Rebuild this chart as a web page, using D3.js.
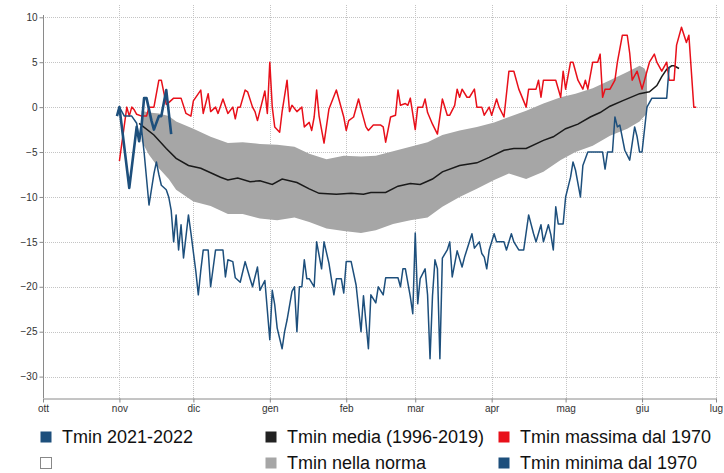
<!DOCTYPE html>
<html><head><meta charset="utf-8">
<script src="https://cdn.jsdelivr.net/npm/d3@7"></script>
<style>body{margin:0;background:#fff}svg{display:block}</style>
</head><body><svg id="c" width="724" height="473"></svg>
<script>
// days counted from 1 Oct 2021
const monthLabels = ["ott","nov","dic","gen","feb","mar","apr","mag","giu","lug"];
const yTicks = [10,5,0,-5,-10,-15,-20,-25,-30];

const curDay = [30,31,35,38,39,40,41,42,44,45,47,48,50,52];
const curVal = [-1,0,-9,-2.2,-3.8,-2,1,1,-1.5,-2.5,-1,-1,1.9,-3];

const mediaDay = [39,45,50,54,59,64,68,72,75,79,84,88,93,97,103,108,112,119,125,130,133,139,144,149,153,158,162,169,176,181,187,191,196,203,207,212,217,222,226,230,235,242,246,249,251,253,255,256,258];
const mediaVal = [-1.8,-3.1,-4.6,-5.7,-6.5,-6.8,-7.3,-7.8,-8.1,-7.9,-8.3,-8.2,-8.6,-8.0,-8.4,-9.1,-9.6,-9.7,-9.6,-9.7,-9.5,-9.5,-8.8,-8.5,-8.6,-8.0,-7.2,-6.5,-6.2,-5.6,-4.8,-4.6,-4.6,-3.7,-3.3,-2.4,-1.9,-1.1,-0.6,0.1,0.7,1.5,1.7,2.4,3.4,4.2,4.6,4.6,4.3];

const normaDay = [40,43,47,51,54,61,68,75,81,88,95,102,108,115,122,129,135,142,149,156,162,169,176,183,189,196,203,210,216,223,230,237,242,244,245];
const normaHigh = [-0.4,-0.6,-0.7,-1.0,-1.6,-2.4,-3.3,-4.0,-3.9,-4.1,-4.2,-4.4,-5.2,-5.8,-5.4,-5.5,-5.4,-4.9,-4.4,-3.9,-3.1,-2.6,-2.2,-1.7,-1.1,-0.4,0.4,1.1,1.5,2.1,3.0,3.9,4.6,4.3,3.6];
const normaLow = [-3.8,-5.3,-6.8,-8.0,-9.2,-10.5,-11.0,-11.9,-11.9,-12.4,-12.6,-12.3,-12.8,-13.5,-13.8,-14.0,-13.7,-13.0,-12.6,-12.3,-11.1,-10.0,-9.1,-8.1,-7.4,-8.0,-7.2,-5.9,-5.0,-4.3,-3.2,-2.4,-1.6,-1.0,-0.7];

const maxDay = [31,34,35,36,37,38,40,42,43,45,47,48,50,51,53,56,58,60,61,64,65,67,68,70,71,73,75,77,78,79,80,82,83,85,86,87,89,90,91,92,93,94,96,97,99,100,101,103,105,106,108,109,110,111,112,114,116,119,120,122,123,124,126,128,129,131,132,134,137,138,139,141,143,144,145,147,148,149,151,152,154,155,156,158,160,162,164,165,167,168,169,170,172,173,175,176,178,179,181,182,183,184,185,187,189,191,193,196,197,200,201,202,203,206,208,210,211,212,214,215,217,219,220,221,223,225,226,227,228,230,232,233,235,237,238,239,241,243,244,246,248,249,251,253,254,256,257,259,261,262,264,265];
const maxVal = [-6,0,-1,0,-0.3,-0.8,-1,-1,0,0,3,3,0.3,0.5,1,1,-0.7,-1,0.7,1.9,-0.7,1.5,-0.5,0,-0.7,0.9,-0.7,0,-1.3,0,0,1.9,1.7,0,-0.5,-1.5,0.7,1.8,-0.7,5,0,-2.2,-2.8,-0.5,3,-0.5,0.2,-0.5,0,-2.2,-1.7,-2.6,-1.1,1.9,-1,-4,-0.2,1.9,0.9,-1.1,-2.6,-1.5,-1.1,0.9,-0.2,-2.2,-2.6,-2,-2,-2.2,-3.9,-1.1,-0.9,1.9,0.2,0.4,0.2,1,-2.5,0,0,0.9,-0.6,-1.9,-3,0.9,-0.9,-0.9,0.2,2,1.1,2,1.1,1.1,2,0,0,-0.9,0,-0.9,0,0.9,0,-1.1,4,4,2,0,2,2,3,1.1,3,3,3,1.1,4,2,5,5,3,2,3,2,5,5,5.9,1.1,2,2,3,5,8,8,6,3,4,2,3,5,5.9,5,4,5,3,3,6.9,8.9,7.2,8,0,0];

const minDay = [31,33,36,38,39,40,41,43,45,46,47,48,50,51,52,53,54,55,56,57,59,60,62,63,64,65,67,68,70,73,74,75,77,78,80,82,84,85,87,88,90,92,93,94,95,97,98,99,101,102,103,104,105,106,107,108,110,111,113,114,116,118,119,121,122,123,125,127,129,130,132,133,135,136,138,139,144,145,146,147,149,150,151,152,153,155,156,157,158,159,160,161,162,164,165,166,168,170,171,174,175,177,178,179,180,181,183,184,187,188,190,191,193,195,197,199,200,202,203,205,206,207,208,209,211,212,213,214,215,216,218,219,221,227,228,229,231,232,233,234,236,238,240,241,242,243,245,247,253,254];
const minVal = [0,-1,-1,-1.8,-3.7,-2.5,-5,-10.9,-7.4,-6.1,-7.5,-8.7,-9.2,-10,-11.5,-15,-12,-15.9,-13.1,-16.8,-12,-14,-18.3,-20.9,-18.2,-15.9,-15.9,-20,-15.9,-15.9,-18.9,-17,-17.2,-19,-19.5,-17.2,-19.1,-20,-17.8,-20.4,-19.3,-25.9,-20.4,-22,-24.6,-26.9,-25,-23.7,-20.5,-20,-25,-20,-20,-17,-19.1,-19.1,-20,-15,-18,-15,-17.4,-20.9,-19.1,-19.1,-20.7,-17.2,-17.2,-19.8,-25,-21,-26.9,-20.9,-21.8,-20,-20.9,-19,-19,-20,-18,-18,-21.1,-23,-14,-21.9,-19.1,-18,-20.9,-28,-21,-17,-18,-28,-16.8,-15.9,-15,-18.9,-16,-17.8,-16.7,-14.1,-15.7,-15,-16.3,-16.7,-18,-15.9,-14.1,-15,-15,-15.9,-14.1,-15,-15.9,-15.9,-12,-14.1,-15,-13.1,-15,-13.1,-14.2,-15.9,-11.1,-13,-13,-10,-8.9,-7.8,-6.1,-7,-10,-6.5,-5,-5,-6.9,-5,-5,-1.1,-2.2,-2,-4.8,-5.9,-2.2,-3.3,-5,-5,0,1,1,4.5];

const legendItems = [
  {label:"Tmin 2021-2022", color:"#1d4f7c"},
  {label:"", color:"#ffffff"},
  {label:"Tmin media (1996-2019)", color:"#222222"},
  {label:"Tmin nella norma", color:"#a6a6a6"},
  {label:"Tmin massima dal 1970", color:"#e8101a"},
  {label:"Tmin minima dal 1970", color:"#1d4f7c"}
];

const start = new Date(2021, 9, 1);
const toDate = d => d3.timeDay.offset(start, d);
const svg = d3.select("#c");
const x = d3.scaleTime().domain([start, new Date(2022, 6, 1)]).range([43, 716]);
const y = d3.scaleLinear().domain([-30, 10]).range([376.6, 17.3]);
const plotTop = 5, plotBottom = 398;
const monthDates = monthLabels.map((m, i) => new Date(2021, 9 + i, 1));

// grid
const grid = svg.append("g").attr("stroke", "#c4c4c4").attr("stroke-dasharray", "1,1").attr("stroke-width", 1);
grid.selectAll("line.h").data(yTicks).join("line")
  .attr("x1", 43).attr("x2", 720).attr("y1", d => Math.round(y(d)) + 0.5).attr("y2", d => Math.round(y(d)) + 0.5);
grid.selectAll("line.v").data(monthDates.slice(1)).join("line")
  .attr("y1", plotTop).attr("y2", plotBottom).attr("x1", d => Math.round(x(d)) + 0.5).attr("x2", d => Math.round(x(d)) + 0.5);

// band
const band = normaDay.map((d, i) => ({d, hi: normaHigh[i], lo: normaLow[i]}));
svg.append("path").datum(band)
  .attr("fill", "#a6a6a6")
  .attr("d", d3.area().x(p => x(toDate(p.d))).y0(p => y(p.lo)).y1(p => y(p.hi)));

const line = d3.line().x(p => x(toDate(p[0]))).y(p => y(p[1]));
const zip = (a, b) => a.map((v, i) => [v, b[i]]);

svg.append("path").datum(zip(mediaDay, mediaVal)).attr("fill", "none").attr("stroke", "#1a1a1a").attr("stroke-width", 1.5).attr("d", line);
svg.append("path").datum(zip(maxDay, maxVal)).attr("fill", "none").attr("stroke", "#e8101a").attr("stroke-width", 1.5).attr("stroke-linejoin", "round").attr("d", line);
svg.append("path").datum(zip(minDay, minVal)).attr("fill", "none").attr("stroke", "#1d4f7c").attr("stroke-width", 1.5).attr("stroke-linejoin", "round").attr("d", line);
svg.append("path").datum(zip(curDay, curVal)).attr("fill", "none").attr("stroke", "#1d4f7c").attr("stroke-width", 2.6).attr("stroke-linejoin", "round").attr("d", line);

// axes
const yAxis = svg.append("g").attr("transform", "translate(43.5,0)")
  .call(d3.axisLeft(y).tickValues(yTicks).tickSize(4).tickSizeOuter(0).tickFormat(d3.format("d")));
yAxis.select(".domain").attr("d", `M0,${plotTop + 10}V${plotBottom}`);
const xAxis = svg.append("g").attr("transform", `translate(0,${plotBottom + 0.5})`)
  .call(d3.axisBottom(x).tickValues(monthDates).tickSize(4).tickSizeOuter(0).tickFormat((d, i) => monthLabels[i]));
[yAxis, xAxis].forEach(g => {
  g.select(".domain").attr("stroke", "#8a8a8a");
  g.selectAll(".tick line").attr("stroke", "#8a8a8a");
  g.selectAll("text").attr("fill", "#333").style("font-family", "Liberation Sans, Arial, sans-serif").style("font-size", "10px");
});
yAxis.selectAll("text").attr("x", -6);
xAxis.selectAll("text").attr("y", 6);

// legend
const colX = [40, 265, 498], rowY = [437, 463];
const lg = svg.append("g").style("font-family", "Liberation Sans, Arial, sans-serif").style("font-size", "18px");
legendItems.forEach((it, i) => {
  const cx = colX[Math.floor(i / 2)], cy = rowY[i % 2];
  lg.append("rect").attr("x", cx + 0.5).attr("y", cy - 5.5).attr("width", 11).attr("height", 11)
    .attr("fill", it.color).attr("stroke", it.label === "" ? "#888" : "none");
  lg.append("text").attr("x", cx + 22).attr("y", cy).attr("dy", "0.35em").attr("fill", "#111").text(it.label);
});
</script></body></html>
